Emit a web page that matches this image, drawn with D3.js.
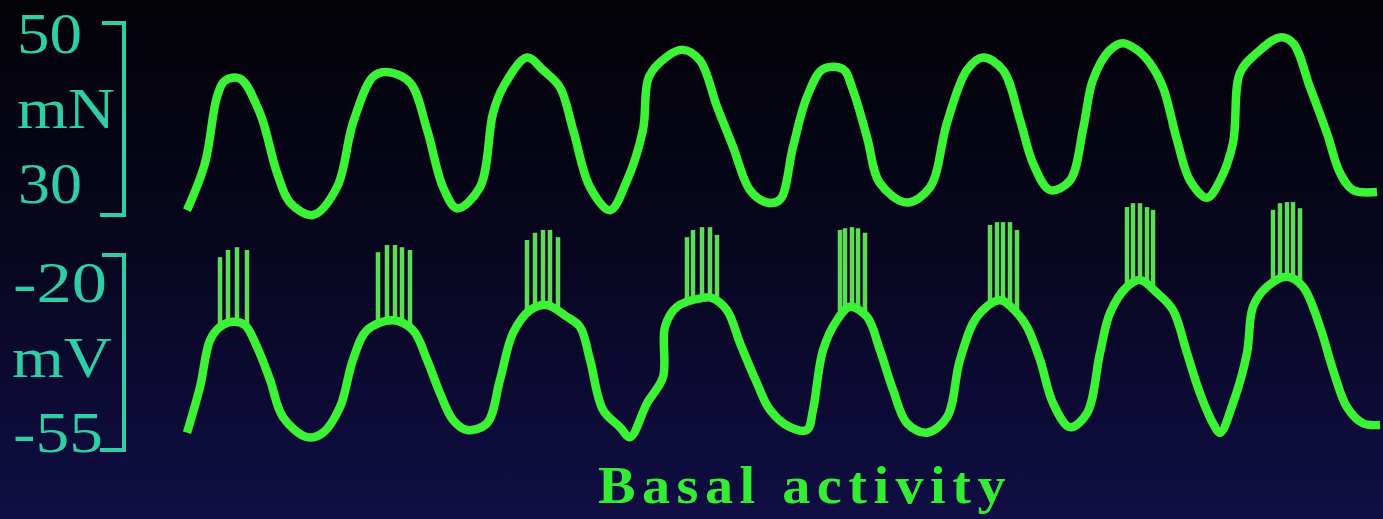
<!DOCTYPE html>
<html>
<head>
<meta charset="utf-8">
<script src="https://cdn.jsdelivr.net/npm/d3@7"></script>
<style>
  html, body { margin: 0; padding: 0; background: #05030c; }
  svg { display: block; }
</style>
</head>
<body>
<div id="chart"></div>
<script>
// Muscle force trace (time in ms, force in mN)
const forceTime = [0, 18, 30, 38, 53, 73, 90, 103, 126, 150, 166, 186, 200, 223, 240, 256, 270,
  293, 306, 316, 340, 356, 373, 386, 403, 423, 440, 456, 462, 480, 496, 513, 530, 546, 563, 580,
  593, 606, 620, 636, 656, 666, 680, 693, 720, 743, 760, 780, 796, 816, 833, 846, 863, 883, 896,
  906, 923, 936, 950, 963, 976, 990, 1003, 1020, 1033, 1046, 1053, 1070, 1093, 1106, 1123, 1140,
  1153, 1166, 1190];
const forceMN = [30.5, 35.4, 42.3, 44.0, 44.2, 40.6, 34.4, 31.3, 30.0, 32.9, 39.6, 44.4, 44.9, 43.8,
  38.9, 32.9, 30.7, 32.9, 40.6, 43.3, 46.4, 45.1, 43.3, 38.9, 32.9, 30.5, 33.6, 38.9, 44.4, 46.5,
  47.2, 46.1, 41.3, 37.1, 32.6, 31.3, 31.6, 37.1, 42.3, 45.2, 45.2, 43.0, 38.1, 33.3, 31.3, 32.9,
  39.6, 45.1, 46.4, 45.1, 39.9, 35.4, 32.6, 33.6, 38.9, 44.1, 47.2, 47.9, 47.2, 45.8, 43.3, 37.8,
  33.6, 31.8, 33.6, 37.5, 44.8, 46.9, 48.5, 47.9, 43.3, 38.5, 34.4, 32.6, 32.4];

// Membrane potential trace (time in ms, mV)
const vmTime = [0, 13, 23, 33, 46, 58, 70, 83, 96, 120, 136, 153, 166, 180, 206, 226, 240, 253, 266,
  280, 300, 313, 326, 343, 360, 380, 393, 403, 416, 433, 443, 460, 476, 478, 490, 516, 525, 540,
  553, 570, 583, 603, 620, 626, 636, 650, 663, 680, 693, 706, 720, 740, 760, 773, 790, 813, 830,
  840, 853, 866, 883, 900, 913, 923, 940, 953, 970, 986, 1000, 1013, 1026, 1033, 1046, 1060, 1066,
  1080, 1100, 1116, 1133, 1146, 1160, 1176, 1193];
const vmMV = [-51.9, -43.7, -35.3, -32.9, -32.0, -32.6, -36.5, -42.4, -49.1, -52.7, -51.9, -47.3,
  -38.8, -33.5, -31.7, -33.5, -38.8, -44.8, -49.6, -51.4, -50.2, -42.4, -34.0, -29.9, -29.0, -31.1,
  -32.9, -38.8, -47.8, -50.9, -52.7, -46.6, -41.9, -32.9, -29.3, -27.7, -27.7, -29.9, -35.8, -43.0,
  -47.8, -50.9, -51.4, -47.8, -37.1, -31.7, -29.3, -31.1, -37.1, -44.2, -50.2, -51.9, -49.1, -38.8,
  -31.1, -28.1, -30.4, -32.9, -38.8, -46.6, -50.9, -48.4, -37.6, -30.4, -25.7, -24.5, -26.8, -29.9,
  -37.6, -44.8, -50.2, -51.9, -46.6, -37.6, -29.3, -25.7, -23.9, -25.7, -32.9, -40.6, -47.3, -50.2,
  -50.5];

// Action potential bursts on each depolarisation
const spikeTimes = [
  [33, 41, 50, 60],
  [191, 200, 208, 215, 223],
  [340, 348, 356, 363, 371],
  [500, 506, 515, 523, 530],
  [653, 658, 665, 671, 678],
  [803, 810, 816, 823, 830],
  [940, 946, 953, 960, 966],
  [1086, 1093, 1100, 1106, 1113]
];
const spikeTops = [
  [-20.4, -19.1, -18.6, -19.1],
  [-19.5, -18.2, -18.2, -18.6, -19.1],
  [-17.3, -16.0, -15.5, -15.5, -16.8],
  [-16.8, -15.5, -15.0, -15.0, -16.4],
  [-15.5, -15.2, -15.0, -15.2, -16.0],
  [-14.6, -14.1, -14.1, -14.1, -15.5],
  [-11.4, -10.7, -10.7, -11.4, -11.9],
  [-11.9, -10.7, -10.5, -10.5, -11.6]
];

const forceTicks = [50, 30];
const vmTicks = [-20, -55];
const forceUnit = 'mN';
const vmUnit = 'mV';
const title = 'Basal activity';

const width = 1383, height = 519;
const traceColor = '#3cf236';
const spikeColor = '#5fdc55';
const axisColor = '#2ecfa6';

const svg = d3.select('#chart').append('svg')
  .attr('width', width)
  .attr('height', height);

// background: black at the top fading to navy
const grad = svg.append('defs').append('linearGradient')
  .attr('id', 'bg').attr('x1', 0).attr('y1', 0).attr('x2', 0).attr('y2', 1);
grad.append('stop').attr('offset', '0%').attr('stop-color', '#030207');
grad.append('stop').attr('offset', '45%').attr('stop-color', '#07061d');
grad.append('stop').attr('offset', '100%').attr('stop-color', '#100e44');
svg.append('rect').attr('width', width).attr('height', height).attr('fill', 'url(#bg)');

// Scales
const x = d3.scaleLinear().domain([0, 1188]).range([187, 1375]);
const yF = d3.scaleLinear().domain([30, 50]).range([215, 23]);
const yV = d3.scaleLinear().domain([-55, -20]).range([450, 255]);

// piecewise linear lookup of the Vm trace, used for spike bases
const vmAt = d3.scaleLinear().domain(vmTime).range(vmMV);

// Brackets
function bracket(scale, ticks) {
  const y0 = scale(ticks[0]), y1 = scale(ticks[1]);
  svg.append('path')
    .attr('d', `M102,${y0} H124 V${y1} H100`)
    .attr('fill', 'none')
    .attr('stroke', axisColor)
    .attr('stroke-width', 4);
}
bracket(yF, forceTicks);
bracket(yV, vmTicks);

// Axis labels
const labels = [
  { text: String(forceTicks[0]), y: 53, x: 17, len: 65 },
  { text: forceUnit, y: 128, x: 17, len: 98 },
  { text: String(forceTicks[1]), y: 203, x: 18, len: 64 },
  { text: String(vmTicks[0]), y: 302, x: 13, len: 94 },
  { text: vmUnit, y: 377, x: 12, len: 100 },
  { text: String(vmTicks[1]), y: 452, x: 13, len: 90 }
];
svg.append('g').selectAll('text')
  .data(labels)
  .join('text')
    .attr('x', d => d.x)
    .attr('y', d => d.y)
    .attr('textLength', d => d.len)
    .attr('lengthAdjust', 'spacingAndGlyphs')
    .attr('font-family', '"Liberation Serif", "DejaVu Serif", serif')
    .attr('font-size', 56)
    .attr('fill', axisColor)
    .text(d => d.text);

// Spikes (drawn under the Vm trace)
const spikes = [];
spikeTimes.forEach((burst, i) => {
  burst.forEach((t, j) => spikes.push({ t, top: spikeTops[i][j] }));
});
svg.append('g').selectAll('line')
  .data(spikes)
  .join('line')
    .attr('x1', d => x(d.t))
    .attr('x2', d => x(d.t))
    .attr('y1', d => yV(vmAt(d.t)))
    .attr('y2', d => yV(d.top))
    .attr('stroke', spikeColor)
    .attr('stroke-width', 4.5);

// Traces
const forceLine = d3.line()
  .x((d, i) => x(forceTime[i]))
  .y(d => yF(d))
  .curve(d3.curveCatmullRom.alpha(0.5));

const vmLine = d3.line()
  .x((d, i) => x(vmTime[i]))
  .y(d => yV(d))
  .curve(d3.curveCatmullRom.alpha(0.5));

svg.append('path')
  .attr('d', forceLine(forceMN))
  .attr('fill', 'none')
  .attr('stroke', traceColor)
  .attr('stroke-width', 8.5)
  .attr('stroke-linejoin', 'round');

svg.append('path')
  .attr('d', vmLine(vmMV))
  .attr('fill', 'none')
  .attr('stroke', traceColor)
  .attr('stroke-width', 8.5)
  .attr('stroke-linejoin', 'round');

// Title
svg.append('text')
  .attr('x', 598)
  .attr('y', 503)
  .attr('textLength', 414)
  .attr('lengthAdjust', 'spacingAndGlyphs')
  .attr('letter-spacing', 6)
  .attr('font-family', '"Liberation Serif", "DejaVu Serif", serif')
  .attr('font-weight', 'bold')
  .attr('font-size', 52)
  .attr('fill', '#35ec35')
  .text(title);
</script>
</body>
</html>
